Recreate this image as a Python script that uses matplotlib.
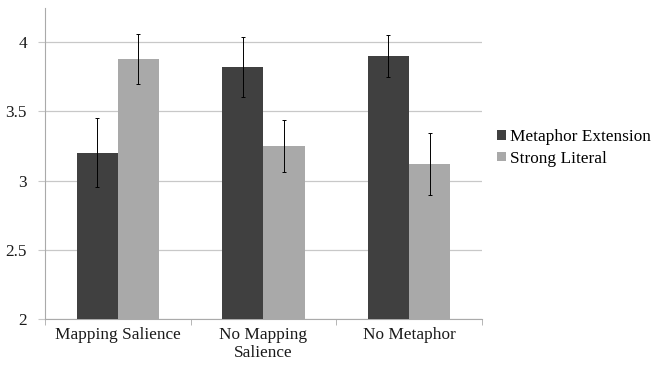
import numpy as np
import matplotlib
matplotlib.use("Agg")
import matplotlib.pyplot as plt
from matplotlib import font_manager

categories = ["Mapping Salience", "No Mapping\nSalience", "No Metaphor"]
series_names = ["Metaphor Extension", "Strong Literal"]
metaphor_ext = [3.20, 3.82, 3.90]
metaphor_err = [0.25, 0.22, 0.15]
strong_lit = [3.88, 3.25, 3.12]
strong_err = [0.18, 0.19, 0.225]
yticks = [2, 2.5, 3, 3.5, 4]
ytick_labels = ["2", "2.5", "3", "3.5", "4"]

# point straight at the file, family names were not picked up for tick labels
font_path = font_manager.findfont("Liberation Serif")
fp = font_manager.FontProperties(fname=font_path, size=12.4)

fig = plt.figure(figsize=(6.51, 3.71), dpi=100)
ax = fig.add_axes([0.069, 0.14, 0.671, 0.838])

x = np.arange(len(categories))
w = 0.283
err_kw = dict(ecolor="black", elinewidth=0.7, capsize=1.5, capthick=0.7)
ax.bar(x - w / 2, metaphor_ext, w, yerr=metaphor_err, color="#404040",
       label=series_names[0], error_kw=err_kw, zorder=3)
ax.bar(x + w / 2, strong_lit, w, yerr=strong_err, color="#a9a9a9",
       label=series_names[1], error_kw=err_kw, zorder=3)

ax.set_xlim(-0.5, len(categories) - 0.5)
ax.set_ylim(2, 4.245)
ax.set_yticks(yticks)
ax.set_yticklabels(ytick_labels, fontproperties=fp, color="#1a1a1a")
ax.yaxis.grid(True, color="#c8c8c8", linewidth=0.9, zorder=0)

ax.set_xticks(x)
ax.set_xticklabels(categories, fontproperties=fp, color="#1a1a1a",
                   linespacing=1.1)
ax.set_xticks(np.arange(len(categories) + 1) - 0.5, minor=True)
ax.tick_params(axis="x", which="major", length=0, pad=6)
ax.tick_params(axis="x", which="minor", length=4, color="#aaaaaa", direction="out")
ax.tick_params(axis="y", length=5, color="#c8c8c8", pad=8)

for s in ["top", "right"]:
    ax.spines[s].set_visible(False)
ax.spines["left"].set_color("#aaaaaa")
ax.spines["bottom"].set_color("#aaaaaa")

ax.legend(loc="center left", bbox_to_anchor=(1.0, 0.55), frameon=False,
          prop=fp, handlelength=0.5, handleheight=0.5,
          handletextpad=0.25, labelspacing=0.3)

fig.savefig("out.png", dpi=100)
